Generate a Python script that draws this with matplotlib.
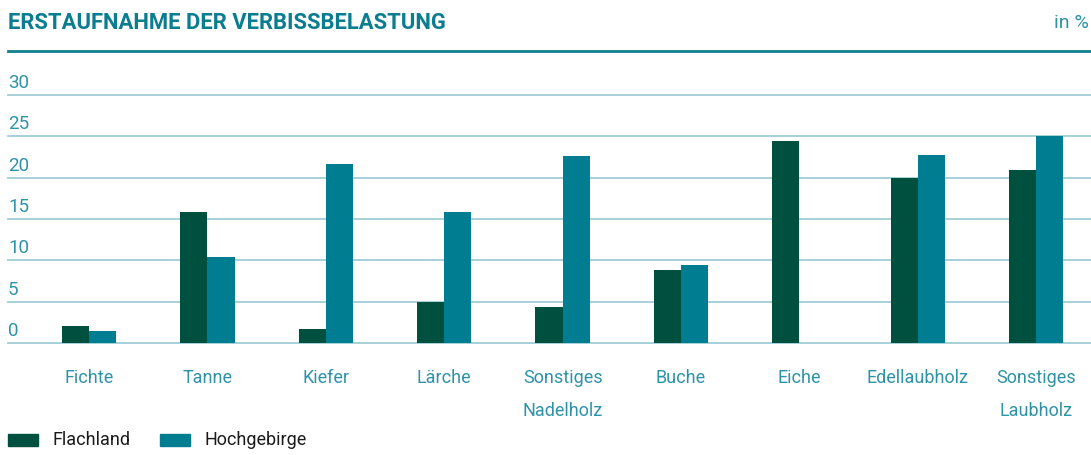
import numpy as np
import matplotlib.pyplot as plt
from matplotlib.lines import Line2D
from matplotlib.patches import Rectangle

categories = ["Fichte", "Tanne", "Kiefer", "Lärche", "Sonstiges\nNadelholz",
              "Buche", "Eiche", "Edellaubholz", "Sonstiges\nLaubholz"]
flachland = [2.0, 15.9, 1.65, 5.0, 4.4, 8.8, 24.4, 20.0, 20.9]
hochgebirge = [1.4, 10.4, 21.6, 15.9, 22.6, 9.4, 0.0, 22.8, 25.1]
yticks = [0, 5, 10, 15, 20, 25, 30]

dark_green = "#00503f"
teal = "#007d91"
title_col = "#0b7d90"
label_col = "#2f93a8"
grid_col = "#9fcdd6"

W, H = 1091, 456
fig = plt.figure(figsize=(W / 100, H / 100), dpi=100)
font = "Roboto"

ax = fig.add_axes([8 / W, (H - 344) / H, (W - 8) / W, (344 - 96) / H])
x = np.arange(len(categories))
bw = 0.23
ax.bar(x - bw / 2, flachland, bw, color=dark_green, zorder=3)
ax.bar(x + bw / 2, hochgebirge, bw, color=teal, zorder=3)

ax.set_xlim(-0.684, 8.463)
ax.set_ylim(0, 30)
ax.set_yticks(yticks)
ax.yaxis.grid(True, color=grid_col, lw=1.3, zorder=0)
for gl in ax.get_ygridlines():
    gl.set_clip_on(False)
ax.tick_params(axis="y", length=0, labelleft=False)
for v in yticks:
    ax.text(0, v + 0.5, str(v), transform=ax.get_yaxis_transform(), ha="left", va="bottom",
            color=label_col, fontsize=13.5, family=font)
ax.set_xticks(x)
ax.set_xticklabels(categories, color=label_col, fontsize=13, family=font, linespacing=2.1)
ax.tick_params(axis="x", length=0, pad=18)
for s in ax.spines.values():
    s.set_visible(False)

# header
fig.text(8 / W, 1 - 23 / H, "ERSTAUFNAHME DER VERBISSBELASTUNG", ha="left", va="center",
         color=title_col, fontsize=15.8, fontweight="bold", family="Roboto")
fig.text(1089 / W, 1 - 23 / H, "in %", ha="right", va="center", color=label_col,
         fontsize=14, family=font)
fig.add_artist(Line2D([8 / W, 1], [1 - 52 / H, 1 - 52 / H], color="#127f8f", lw=2.0,
                      transform=fig.transFigure))

# legend
for px, name, col in [(8, "Flachland", dark_green), (160, "Hochgebirge", teal)]:
    fig.add_artist(Rectangle((px / W, 1 - 447 / H), 30 / W, 12 / H, color=col,
                             transform=fig.transFigure))
    fig.text((px + 45) / W, 1 - 440 / H, name, ha="left", va="center", color="#1a1a1a",
             fontsize=13, family=font)

fig.savefig("out.png", dpi=100)
